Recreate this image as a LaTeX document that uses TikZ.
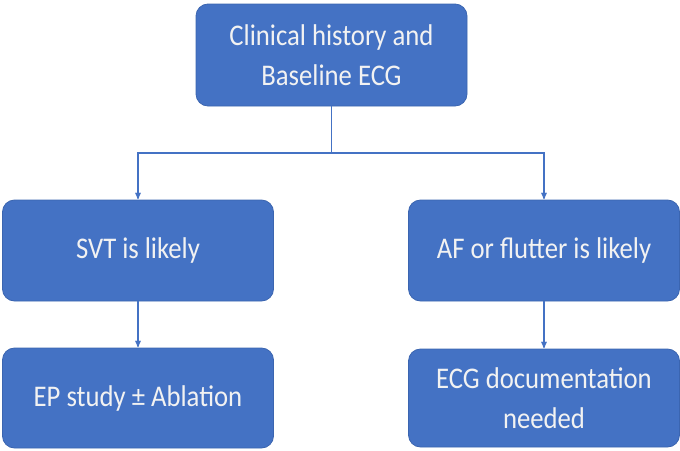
\documentclass[tikz,border=0pt]{standalone}
\usepackage{fontspec}
\setmainfont[FakeStretch=0.89]{Carlito}
\usepackage{tikz}
\usetikzlibrary{
  arrows,
  chains,
  positioning,
  scopes
}
\definecolor{boxblue}{HTML}{4472C4}
\definecolor{boxedge}{HTML}{3B65B0}
\definecolor{boxtext}{HTML}{F2F2F2}

\begin{document}
\begin{tikzpicture}[x=1pt,y=-1pt,
      step box/.style={
         rectangle,
         rounded corners=12pt,
         minimum width=271pt,
         minimum height=101pt,
         line width=0.8pt,
         draw=boxedge,
         fill=boxblue,
         text=boxtext,
         align=center,
         font=\fontsize{30}{40}\selectfont
      },
      point/.style={coordinate},>=stealth',line width=1.3pt,draw=boxblue,
      tip/.style={->,shorten >=0.5pt},
      hv path/.style={to path={-| (\tikztotarget)}},
    ]
    \useasboundingbox (0,0) rectangle (680,450);
    \node (history) [step box, minimum height=102pt] at (331.5,55) {Clinical history and\\Baseline ECG};
    \node (svt) [step box] at (138,250.5) {SVT is likely};
    \node (af) [step box] at (544,250.5) {AF or flutter is likely};
    \node (ep) [step box, minimum height=100pt] at (138,398) {EP study \char"00B1{} Ablation};
    \node (ecg) [step box, minimum height=98pt] at (544,398) {ECG documentation\\needed};
    \node (split) [point] at (history.south |- 0,153) {};
  { [start chain]
       \chainin (history);
       \chainin (split)    [join];
  }
  { [start chain]
       \chainin (split);
       \chainin (svt)    [join=by {hv path,tip}];
  }
  { [start chain]
       \chainin (split);
       \chainin (af)    [join=by {hv path,tip}];
  }
  { [start chain]
       \chainin (svt);
       \chainin (ep)    [join=by tip];
  }
  { [start chain]
       \chainin (af);
       \chainin (ecg)    [join=by tip];
  }
\end{tikzpicture}
\end{document}
